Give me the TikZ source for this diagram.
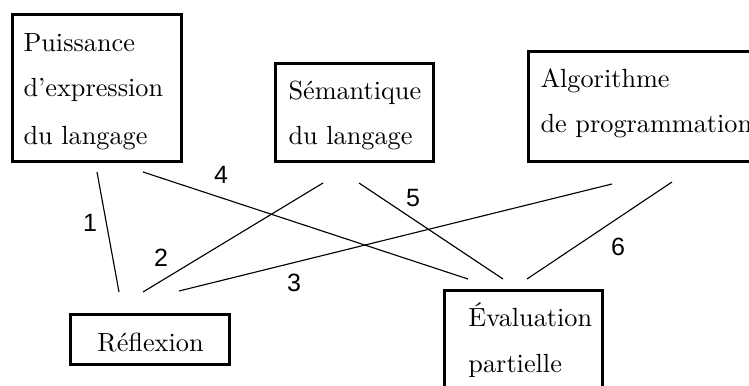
\documentclass[tikz,border=0pt]{standalone}
\usepackage{fontspec}
\newfontfamily\numfont{Liberation Sans}
\usetikzlibrary{calc}

\begin{document}
\begin{tikzpicture}[x=0.4pt,y=-0.4pt,
  box/.style={draw, line width=1.2pt, anchor=north west, inner sep=0pt},
  txt/.style={anchor=base west, inner sep=0pt, font=\fontsize{10.5}{12}\selectfont},
  num/.style={font=\numfont, inner sep=0pt},
  link/.style={line width=0.45pt}]
\clip (0,0) rectangle (749,386);
\useasboundingbox (0,0) rectangle (749,386);

  \node[box, minimum width=67.6pt, minimum height=58.8pt] (puis) at (11,13) {};
  \node[box, minimum width=63.2pt, minimum height=39.2pt] (sem) at (274,62) {};
  \node[box, minimum width=100pt, minimum height=44pt] (algo) at (527,50) {};
  \node[box, minimum width=63.6pt, minimum height=20pt] (refl) at (69,313) {};
  \node[box, minimum width=63.2pt, minimum height=46pt] (eval) at (443,289) {};

\node[txt] (puis1) at (23,52) {Puissance};
\node[txt] (puis2) at (23,97) {d'expression};
\node[txt] (puis3) at (23,145) {du langage};
\node[txt] (sem1) at (288,100) {Sémantique};
\node[txt] (sem2) at (288,145) {du langage};
\node[txt] (algo1) at (540,88) {Algorithme};
\node[txt] (algo2) at (540,133) {de\ programmation};
\node[txt] (refl1) at (97,352) {Réflexion};
\node[txt] (eval1) at (468,327) {Évaluation};
\node[txt] (eval2) at (468,373) {partielle};

  % free ends of the links
  \coordinate (p1) at (97,172);
  \coordinate (p4) at (143,172);
  \coordinate (s2) at (323,183);
  \coordinate (s5) at (359,183);
  \coordinate (a3) at (612,184);
  \coordinate (a6) at (672,182);
  \coordinate (r1) at (119,292);
  \coordinate (r2) at (143,292);
  \coordinate (r3) at (179,291);
  \coordinate (e4) at (468,279);
  \coordinate (e5) at (503,279);
  \coordinate (e6) at (527,279);

\draw[link] (p1) -- (r1); % 1
\draw[link] (s2) -- (r2); % 2
\draw[link] (a3) -- (r3); % 3
\draw[link] (p4) -- (e4); % 4
\draw[link] (s5) -- (e5); % 5
\draw[link] (a6) -- (e6); % 6

\node[num] (n1) at (90,223) {1};
\node[num] (n2) at (161,258) {2};
\node[num] (n3) at (294,283) {3};
\node[num] (n4) at (221,175) {4};
\node[num] (n5) at (413,198) {5};
\node[num] (n6) at (618,247) {6};

\end{tikzpicture}
\end{document}
